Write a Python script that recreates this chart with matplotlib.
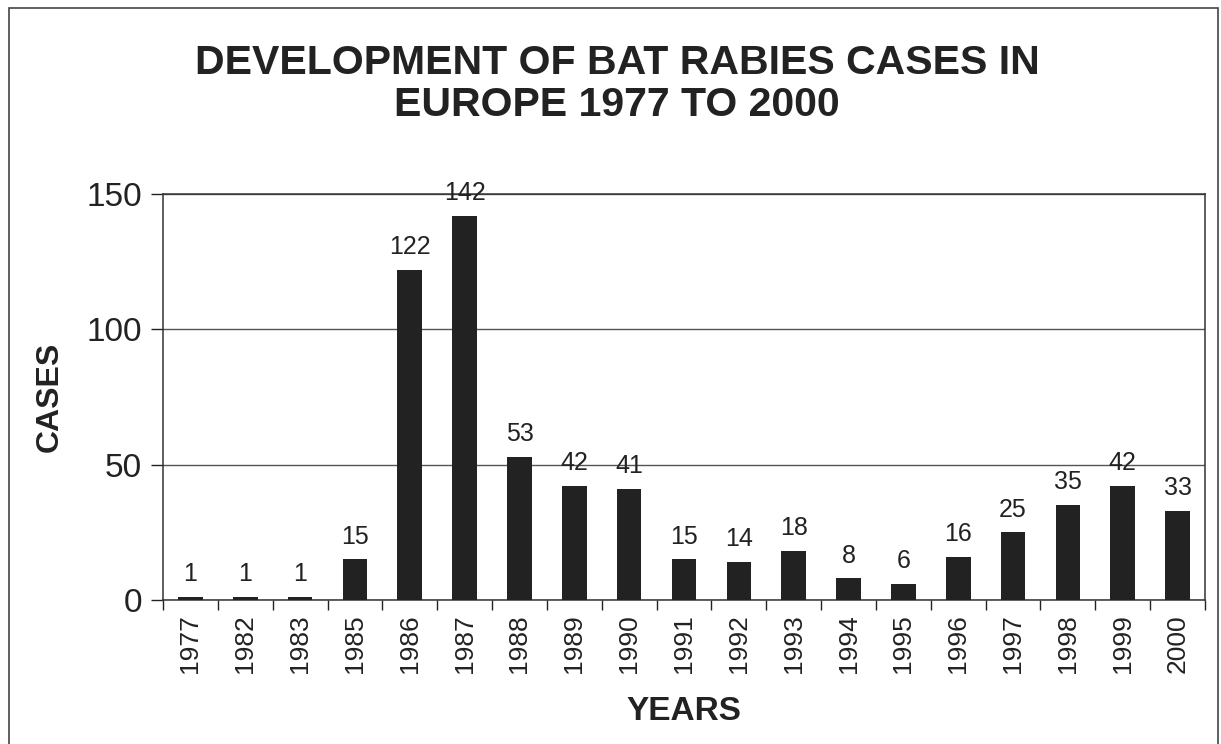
import matplotlib
matplotlib.use("Agg")
import matplotlib.pyplot as plt
import numpy as np
from matplotlib.patches import Rectangle

years = ["1977", "1982", "1983", "1985", "1986", "1987", "1988", "1989", "1990", "1991",
         "1992", "1993", "1994", "1995", "1996", "1997", "1998", "1999", "2000"]
cases = [1, 1, 1, 15, 122, 142, 53, 42, 41, 15, 14, 18, 8, 6, 16, 25, 35, 42, 33]
y_ticks = [0, 50, 100, 150]

title = "DEVELOPMENT OF BAT RABIES CASES IN\nEUROPE 1977 TO 2000"

plt.rcParams['font.family'] = ['Liberation Sans', 'DejaVu Sans']
ink = '#222222'

W, H = 1221, 744
fig = plt.figure(figsize=(W / 100, H / 100), dpi=100, facecolor='white')

# outer frame of the chart (bottom edge runs off the page)
fig.patches.append(Rectangle((9 / W, -0.05), (1218 - 9) / W, 1.05 - 8 / H,
                             transform=fig.transFigure, fill=False,
                             edgecolor='#444444', linewidth=1.2))

ax = fig.add_axes([163 / W, 1 - 600 / H, (1205 - 163) / W, (600 - 194) / H])
x = np.arange(len(years))
ax.bar(x, cases, width=0.45, color=ink, zorder=3)

for xi, v in zip(x, cases):
    ax.text(xi, v + 4, str(v), ha='center', va='bottom', fontsize=18, color=ink, zorder=4)

ax.set_xlim(-0.5, len(years) - 0.5)
ax.set_ylim(0, 150)
ax.set_yticks(y_ticks)
ax.set_yticklabels([str(t) for t in y_ticks], fontsize=24, color=ink)
ax.yaxis.grid(True, color='#555555', linewidth=1.0, zorder=0)
ax.tick_params(axis='y', length=9, width=1, color=ink, pad=6)

ax.set_xticks(x)
ax.set_xticklabels(years, rotation=90, fontsize=19, color=ink)
ax.tick_params(axis='x', which='major', length=0, pad=10)
ax.set_xticks(np.arange(-0.5, len(years)), minor=True)
ax.tick_params(axis='x', which='minor', length=7, width=1, color=ink)

for s in ax.spines.values():
    s.set_color('#333333')
    s.set_linewidth(1.1)

ax.set_ylabel("CASES", fontsize=23, fontweight='bold', color=ink, labelpad=16)
ax.set_xlabel("YEARS", fontsize=24, fontweight='bold', color=ink, labelpad=17)

fig.text(617 / W, 1 - 84 / H, title, ha='center', va='center', fontsize=29.5,
         fontweight='bold', color=ink, linespacing=1.12)

fig.savefig("out.png", dpi=100, facecolor='white')
